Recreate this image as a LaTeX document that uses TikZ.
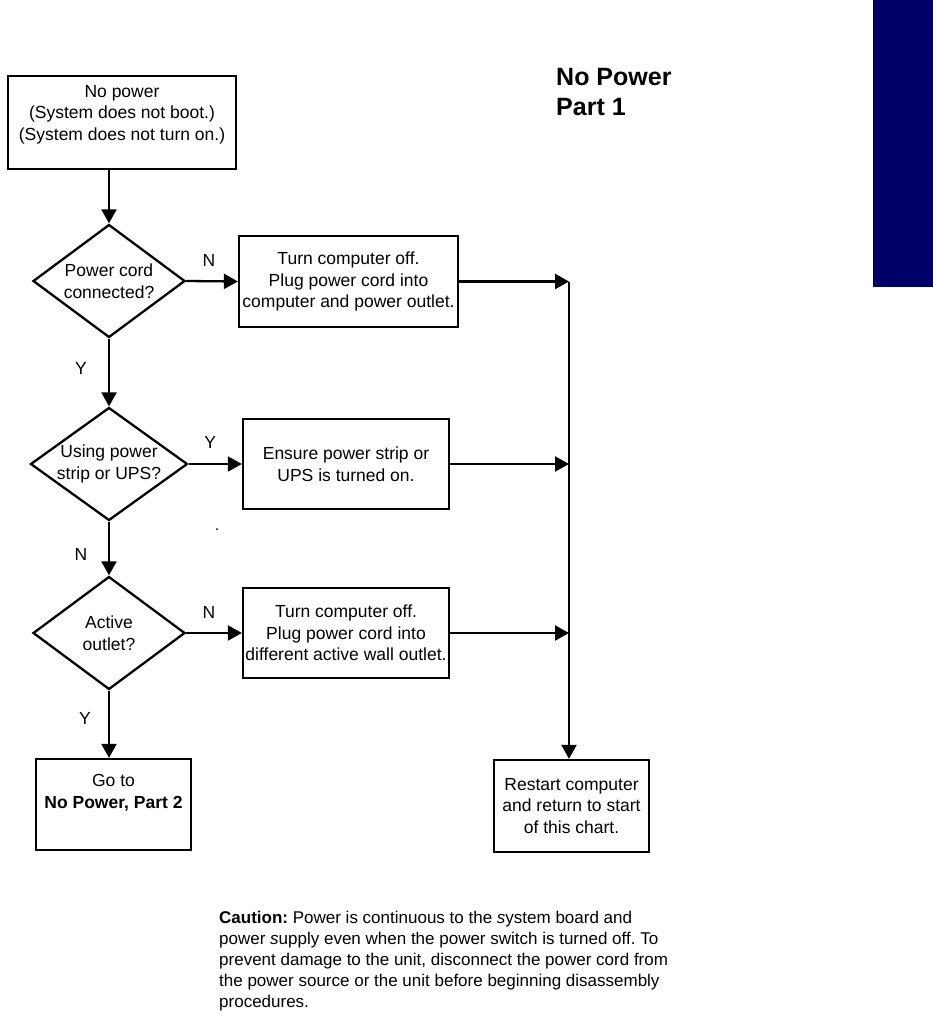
\documentclass[tikz,border=0pt]{standalone}
\usepackage{fontspec}
\setmainfont{Liberation Sans}
\usetikzlibrary{arrows.meta,shapes.geometric}
\definecolor{tabblue}{RGB}{0,0,102}
\frenchspacing

\tikzset{
    stepbox/.style={draw, line width=2.3pt, rectangle, align=center, inner sep=0pt,
        font=\fontsize{17.5}{21.5}\selectfont},
    decision/.style={draw, line width=2.3pt, diamond, aspect=1.4, inner sep=0pt,
        minimum width=152pt, minimum height=113pt, align=center,
        font=\fontsize{17.5}{21.5}\selectfont},
    flow/.style={line width=2.3pt, -{Triangle[length=14pt,width=15pt]}},
    answer/.style={font=\fontsize{17.5}{20}\selectfont}
}

\begin{document}
\begin{tikzpicture}[x=1pt,y=-1pt]
    \useasboundingbox (0,0) rectangle (933,1024);
    \fill[tabblue] (873,0) rectangle (933,287);
    \node[anchor=north west, inner sep=0pt, align=left,
        font=\fontsize{25}{30}\selectfont\bfseries] (title) at (556,68) {No Power\\Part 1};

    % left column
    \node[stepbox, minimum width=228pt, minimum height=93pt, text depth=20pt] (start) at (122,122.5)
        {No power\\(System does not boot.)\\(System does not turn on.)};
    \node[decision] (cord) at (109,281) {Power cord\\connected?};
    \node[decision] (strip) at (109,464) {Using power\\strip or UPS?};
    \node[decision] (outlet) at (109,633) {Active\\outlet?};
    \node[stepbox, minimum width=155pt, minimum height=91pt, text depth=26pt] (part2) at (113.5,804.5)
        {Go to\\\textbf{No Power, Part 2}};

    % middle column
    \node[stepbox, minimum width=219pt, minimum height=91pt] (plug) at (348.5,281.5)
        {Turn computer off.\\Plug power cord into\\computer and power outlet.};
    \node[stepbox, minimum width=206pt, minimum height=90pt] (ups) at (346,464)
        {Ensure power strip or\\UPS is turned on.};
    \node[stepbox, minimum width=206pt, minimum height=90pt] (wall) at (346,633)
        {Turn computer off.\\Plug power cord into\\different active wall outlet.};
    \fill (217,529) circle (1pt);

    % right column
    \node[stepbox, minimum width=155pt, minimum height=92pt] (restart) at (571.5,806)
        {Restart computer\\and return to start\\of this chart.};
    \coordinate (bus1) at (569,281.5);
    \coordinate (bus2) at (569,464);
    \coordinate (bus3) at (569,633);

    \draw[flow] (cord.north |- start.south) -- (cord.north);
    \draw[flow] (cord.south) -- (strip.north) node[answer, midway, xshift=-28pt, yshift=4pt] {Y};
    \draw[flow] (strip.south) -- (outlet.north) node[answer, midway, xshift=-28pt, yshift=-6pt] {N};
    \draw[flow] (outlet.south) -- (outlet.south |- part2.north) node[answer, midway, xshift=-24pt, yshift=6pt] {Y};
    \draw[flow] (cord.east) -- (plug.west) node[answer, midway, xshift=-3pt, yshift=21pt] {N};
    \draw[flow] (strip.east) -- (ups.west) node[answer, midway, xshift=-5pt, yshift=22pt] {Y};
    \draw[flow] (outlet.east) -- (wall.west) node[answer, midway, xshift=-5pt, yshift=21pt] {N};
    \draw[flow] (plug.east) -- (bus1);
    \draw[flow] (ups.east) -- (bus2);
    \draw[flow] (wall.east) -- (bus3);
    \draw[flow] (bus1) -- (bus1 |- restart.north);

    \node[anchor=north west, inner sep=0pt, align=left,
        font=\fontsize{17}{21}\selectfont] (caution) at (219,911)
        {\textbf{Caution:} Power is continuous to the \textit{s}ystem board and\\
        power \textit{s}upply even when the power switch is turned off. To\\
        prevent damage to the unit, disconnect the power cord from\\
        the power source or the unit before beginning disassembly\\
        procedures.};
\end{tikzpicture}
\end{document}
